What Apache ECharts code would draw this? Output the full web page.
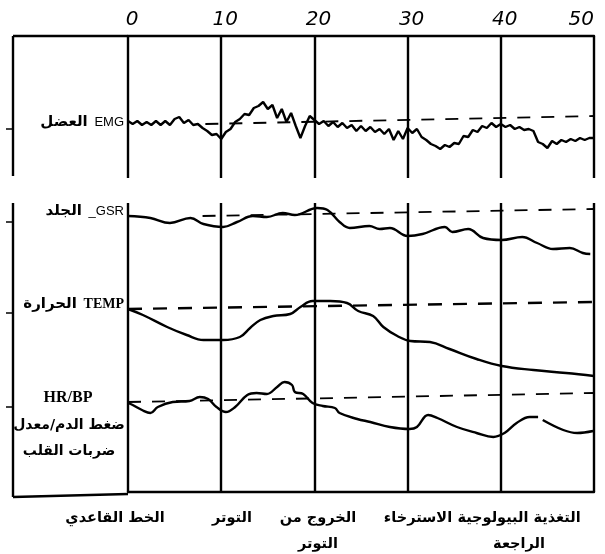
<!DOCTYPE html>
<html><head><meta charset="utf-8">
<script src="https://cdn.jsdelivr.net/npm/echarts@6/dist/echarts.min.js"></script>
<style>html,body{margin:0;padding:0;background:#fff}#c{width:605px;height:554px}</style>
</head><body><div id="c"></div>
<script>
// ---- data ----
const timeTicks = [0, 10, 20, 30, 40, 50];            // minutes
const phaseLabels = ['الخط القاعدي', 'التوتر', 'الخروج من\nالتوتر', 'الاسترخاء', 'التغذية البيولوجية\nالراجعة'];
const signalArabic = ['العضل', 'الجلد', 'الحرارة'];
const signalLatin = ['EMG', '_GSR', 'TEMP'];
const hrLabels = ['HR/BP', 'ضغط الدم/معدل', 'ضربات القلب'];

// EMG deviation from its resting level, sampled every 0.5 min from 0 to 50
const emgStep = 0.5;
const emgDev = [1,-2,1,-3,0,-3,1,-3,1,-3,3,5,-1,2,-3,-2,-6,-9,-13,-12,-17,
  -10,-7,0,3,8,7,14,16,20,13,17,4,13,0,9,-4,-16,-4,6,2,
  -2,1,-4,0,-5,-1,-6,-3,-9,-4,-9,-5,-10,-7,-12,-7,-18,-9,-17,-6,
  -11,-7,-15,-18,-22,-24,-27,-23,-25,-21,-22,-14,-15,-8,-10,-4,-6,-1,-5,-2,
  -5,-3,-7,-5,-8,-7,-9,-20,-22,-26,-19,-22,-18,-20,-17,-19,-16,-18,-16,-16];
const emgBaseline = [[8.3, -2], [50, 6]];

const gsrTime = [0,2.4,4.5,6.7,8.1,10.2,11.7,13.4,14.9,16.6,17.9,20.3,21.4,22.7,23.8,25.9,27,28.1,30,31.6,34,34.8,36.5,38.1,40.1,42.3,43.9,45.6,47.4,48.8,49.6];
const gsrDev  = [-1,-3,-8,-3,-9,-12,-7,-1,-2,2,0,7,5,-7,-13,-11,-14,-13,-21,-19,-12,-17,-14,-23,-25,-22,-28,-34,-33,-38,-39];
const gsrBaseline = [[8, -1], [50, 6]];

const tempTime = [0,1.6,4.2,6.3,8.1,10.2,12,13.1,14.2,15.6,17.4,18.5,19.8,21.7,23.5,24.7,26.3,27.4,28.9,30.3,32.4,34.5,37.4,40.1,43.5,47,50];
const tempDev  = [-1,-7,-19,-27,-32,-32,-29,-20,-12,-8,-6,1,7,7,5,-3,-8,-19,-28,-33,-34,-41,-51,-58,-62,-65,-68];
const tempBaseline = [[0, -1], [50, 6]];

const hrTime = [0,0.5,1.5,2.4,3.2,4.8,6.6,7.7,8.6,9.5,10.5,11.5,12.8,13.8,14.9,16,16.8,17.6,17.9,18.8,19.8,20.9,22.2,22.7,24.6,26,28.1,30.2,31,32.2,33.2,35.3,37.4,39.2,40.4,41.7,43.1,44,44.25,44.5,46.7,48.2,49.9];
const hrDev  = [-1,-3,-8,-11,-5,0,1,5,3,-5,-10,-5,7,9,8,15,20,17,10,8,-1,-4,-6,-11,-17,-20,-25,-27,-25,-13,-16,-25,-31,-35,-31,-21,-15,-15,'-',-18,-28,-31,-29];
const hrBaseline = [[0, 0], [50, 9]];

// ---- layout (vertical placement of each trace, in axis units) ----
const LEVEL = {emg: 56, gsr: 277, temp: 184, hr: 90};

function pairs(ts, vs, base) {
  return ts.map((t, i) => [t, vs[i] === '-' ? '-' : vs[i] + base]);
}
function shift(arr, base) { return arr.map(p => [p[0], p[1] + base]); }

const emgData = emgDev.map((v, i) => [i * emgStep, v + LEVEL.emg]);

const chart = echarts.init(document.getElementById('c'), null, {renderer: 'canvas'});
const black = '#000';
const traceStyle = {color: black, width: 2.4};
const dashStyle = {color: black, width: 1.8, type: [13, 11]};
const arabicFont = '"DejaVu Sans", "Noto Sans", sans-serif';

const xCommon = {
  type: 'value', min: 0, max: 50, interval: 10,
  axisTick: {show: false},
  splitLine: {show: true, lineStyle: {color: black, width: 2.4}}
};

const graphics = [];
function L(x1, y1, x2, y2, w) {
  graphics.push({type: 'line', silent: true, shape: {x1, y1, x2, y2}, style: {stroke: black, lineWidth: w || 2.4}});
}
L(13, 36, 128, 36);
L(13, 36, 13, 176);
L(13, 203, 13, 497);
L(13, 497, 128, 494);
[129, 222, 313, 407].forEach(y => L(6, y, 13, y, 1.5));

function richLabel(ar, la, y, latinFont) {
  graphics.push({type: 'text', silent: true, x: 124, y,
    style: {text: '{a|' + ar + '}  {b|' + la + '}', align: 'right', verticalAlign: 'middle',
      rich: {
        a: {fill: black, font: 'bold 15px ' + arabicFont},
        b: {fill: black, font: latinFont}
      }}});
}
richLabel(signalArabic[0], signalLatin[0], 122, '13px "Liberation Sans"');
richLabel(signalArabic[1], signalLatin[1], 211, '13px "Liberation Sans"');
richLabel(signalArabic[2], signalLatin[2], 304, 'bold 14px "Liberation Serif"');

function T(text, x, y, font) {
  graphics.push({type: 'text', silent: true, x, y,
    style: {text, fill: black, align: 'center', verticalAlign: 'middle', font}});
}
T(hrLabels[0], 68, 398, 'bold 16px "Liberation Serif"');
T(hrLabels[1], 69, 425, 'bold 14px ' + arabicFont);
T(hrLabels[2], 69, 451, 'bold 14px ' + arabicFont);

const phaseX = [115, 232, 318, 418, 519];
phaseLabels.forEach((s, i) => {
  graphics.push({type: 'text', silent: true, x: phaseX[i], y: 505,
    style: {text: s, fill: black, align: 'center', verticalAlign: 'top',
      font: 'bold 14.5px ' + arabicFont, lineHeight: 26}});
});

chart.setOption({
  animation: false,
  backgroundColor: '#fff',
  grid: [
    {left: 128, right: 11, top: 36, height: 142, containLabel: false, outerBoundsMode: 'none'},
    {left: 128, right: 11, top: 203, bottom: 62, containLabel: false, outerBoundsMode: 'none'}
  ],
  xAxis: [
    Object.assign({}, xCommon, {gridIndex: 0, position: 'top',
      axisLine: {show: true, onZero: false, lineStyle: {color: black, width: 2.4}},
      axisLabel: {show: true, color: black, fontSize: 20, fontStyle: 'italic',
        fontFamily: '"DejaVu Sans"', margin: 6, padding: [0, 0, 0, 8], alignMaxLabel: 'right',
        formatter: v => timeTicks.includes(v) ? String(v) : ''}}),
    Object.assign({}, xCommon, {gridIndex: 1, position: 'bottom',
      axisLine: {show: true, onZero: false, lineStyle: {color: black, width: 2.4}},
      axisLabel: {show: false}})
  ],
  yAxis: [
    {type: 'value', gridIndex: 0, min: 0, max: 142, show: false},
    {type: 'value', gridIndex: 1, min: 0, max: 289, show: false}
  ],
  series: [
    {type: 'line', xAxisIndex: 0, yAxisIndex: 0, data: emgData, showSymbol: false, lineStyle: traceStyle},
    {type: 'line', xAxisIndex: 0, yAxisIndex: 0, data: shift(emgBaseline, LEVEL.emg), showSymbol: false, lineStyle: dashStyle},
    {type: 'line', xAxisIndex: 1, yAxisIndex: 1, data: pairs(gsrTime, gsrDev, LEVEL.gsr), smooth: 0.4, showSymbol: false, lineStyle: traceStyle},
    {type: 'line', xAxisIndex: 1, yAxisIndex: 1, data: shift(gsrBaseline, LEVEL.gsr), showSymbol: false, lineStyle: dashStyle},
    {type: 'line', xAxisIndex: 1, yAxisIndex: 1, data: pairs(tempTime, tempDev, LEVEL.temp), smooth: 0.4, showSymbol: false, lineStyle: traceStyle},
    {type: 'line', xAxisIndex: 1, yAxisIndex: 1, data: shift(tempBaseline, LEVEL.temp), showSymbol: false, lineStyle: {color: black, width: 2.4, type: [14, 11]}},
    {type: 'line', xAxisIndex: 1, yAxisIndex: 1, data: pairs(hrTime, hrDev, LEVEL.hr), smooth: 0.4, connectNulls: false, showSymbol: false, lineStyle: traceStyle},
    {type: 'line', xAxisIndex: 1, yAxisIndex: 1, data: shift(hrBaseline, LEVEL.hr), showSymbol: false, lineStyle: dashStyle}
  ],
  graphic: graphics
});
</script>
</body></html>
